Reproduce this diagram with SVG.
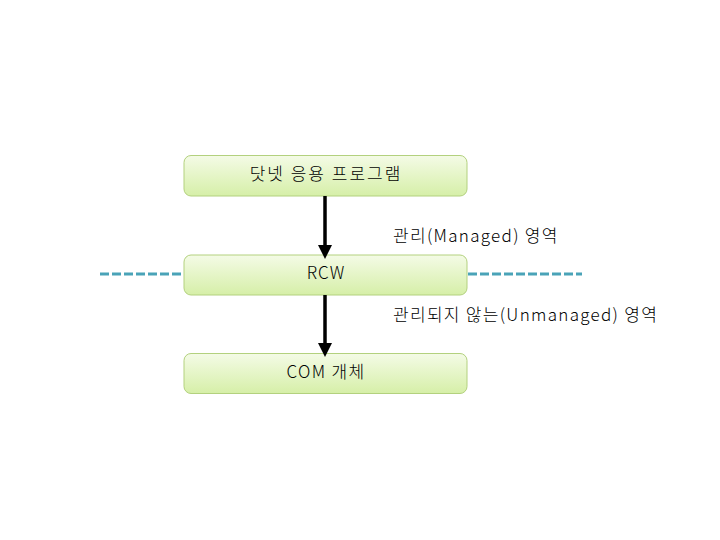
<svg xmlns="http://www.w3.org/2000/svg" width="720" height="540" viewBox="0 0 720 540">
<defs>
<linearGradient id="g" x1="0" y1="0" x2="0" y2="1">
<stop offset="0" stop-color="#f4fbe6"/>
<stop offset="1" stop-color="#d6efa8"/>
</linearGradient>
<marker id="ah" markerWidth="4" markerHeight="4" refX="2" refY="2" orient="auto" markerUnits="strokeWidth" viewBox="0 0 4 4">
<path d="M0,0 L4,2 L0,4 Z" fill="#000"/>
</marker>
<style>
.box{fill:url(#g);stroke:#b3d17e;stroke-width:1}
.t{font-family:"Noto Sans CJK KR","Liberation Sans",sans-serif;font-size:17px;font-weight:300;fill:#000;letter-spacing:1.3px}
.dash{stroke:#4aa3b8;stroke-width:3;stroke-dasharray:9 3;fill:none}
.conn{stroke:#000;stroke-width:3.5;fill:none}
</style>
</defs>
<rect width="720" height="540" fill="#fff"/>
<g id="boundary">
<line class="dash" x1="100" y1="274" x2="184" y2="274"/>
<line class="dash" x1="468" y1="274" x2="582" y2="274"/>
</g>
<g id="n1">
<rect class="box" x="184" y="155.5" width="283" height="40.5" rx="7"/>
<text class="t" x="326" y="180" text-anchor="middle" style="letter-spacing:2px">닷넷 응용 프로그램</text>
</g>
<g id="n2">
<rect class="box" x="184" y="255" width="283" height="40" rx="7"/>
<text class="t" x="326" y="279" text-anchor="middle" style="letter-spacing:1px">RCW</text>
</g>
<g id="n3">
<rect class="box" x="184" y="353.5" width="283" height="40" rx="7"/>
<text class="t" x="326" y="378" text-anchor="middle">COM 개체</text>
</g>
<g id="labels">
<text class="t" x="393" y="242">관리(Managed) 영역</text>
<text class="t" x="393" y="321">관리되지 않는(Unmanaged) 영역</text>
</g>
<g id="connectors">
<line class="conn" x1="325" y1="196" x2="325" y2="252" marker-end="url(#ah)"/>
<line class="conn" x1="325" y1="295" x2="325" y2="350" marker-end="url(#ah)"/>
</g>
</svg>
